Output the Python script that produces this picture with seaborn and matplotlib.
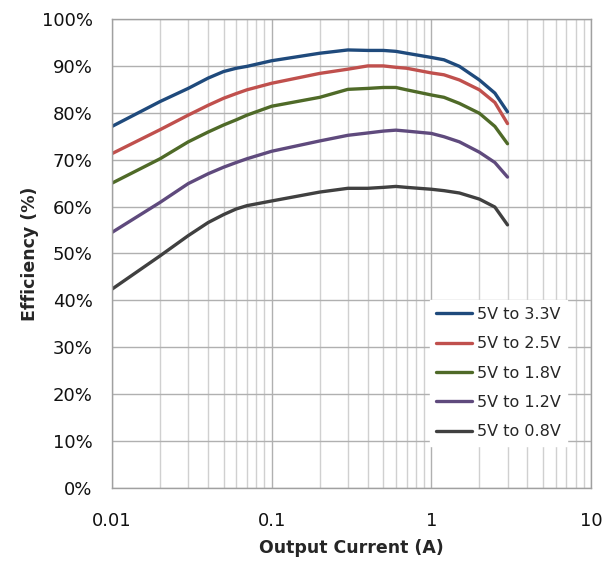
import numpy as np
import pandas as pd
import matplotlib
matplotlib.use("Agg")
import matplotlib.pyplot as plt
import seaborn as sns
from matplotlib.ticker import FixedLocator, FuncFormatter, LogLocator, NullFormatter

current = [0.01, 0.02, 0.03, 0.04, 0.05, 0.06, 0.07, 0.1, 0.2, 0.3, 0.4, 0.5, 0.6, 0.7,
           1.0, 1.2, 1.5, 2.0, 2.5, 3.0]
eff_33 = [77.1, 82.4, 85.2, 87.4, 88.8, 89.5, 89.9, 91.1, 92.7, 93.4, 93.3, 93.3, 93.1, 92.7,
          91.8, 91.3, 89.9, 87.0, 84.2, 80.2]
eff_25 = [71.3, 76.4, 79.5, 81.6, 83.1, 84.1, 84.9, 86.3, 88.4, 89.3, 90.0, 90.0, 89.7, 89.5,
          88.5, 88.1, 87.0, 84.9, 82.2, 77.7]
eff_18 = [65.0, 70.2, 73.8, 75.9, 77.4, 78.5, 79.5, 81.4, 83.3, 85.0, 85.2, 85.4, 85.4, 84.9,
          83.8, 83.3, 82.0, 79.9, 77.1, 73.4]
eff_12 = [54.5, 60.9, 64.9, 67.0, 68.4, 69.4, 70.2, 71.8, 74.0, 75.2, 75.7, 76.1, 76.3, 76.1,
          75.6, 74.9, 73.8, 71.6, 69.4, 66.3]
eff_08 = [42.4, 49.5, 53.8, 56.6, 58.3, 59.5, 60.2, 61.2, 63.1, 63.9, 63.9, 64.1, 64.3, 64.1,
          63.7, 63.4, 62.9, 61.6, 59.9, 56.1]
series = ["5V to 3.3V", "5V to 2.5V", "5V to 1.8V", "5V to 1.2V", "5V to 0.8V"]
colors = ["#1f4a7c", "#c0504d", "#4f6a28", "#5f4a7d", "#404040"]
y_ticks = [0, 10, 20, 30, 40, 50, 60, 70, 80, 90, 100]
x_ticks = [0.01, 0.1, 1, 10]
x_tick_labels = ["0.01", "0.1", "1", "10"]

rows = []
for name, vals in zip(series, [eff_33, eff_25, eff_18, eff_12, eff_08]):
    for c, v in zip(current, vals):
        rows.append({"Current": c, "Efficiency": v, "Series": name})
df = pd.DataFrame(rows)

sns.set_style("white")
plt.rcParams["font.family"] = ["DejaVu Sans"]

fig = plt.figure(figsize=(6.09, 5.61), dpi=100)
ax = fig.add_axes([112/609, 1-488/561, (591-112)/609, (488-19)/561])

sns.lineplot(data=df, x="Current", y="Efficiency", hue="Series", palette=colors,
             hue_order=series, linewidth=2.4, ax=ax, sort=True, estimator=None)
for ln in ax.get_lines():
    ln.set_solid_joinstyle("round")
    ln.set_solid_capstyle("round")

ax.set_xscale("log")
ax.set_xlim(0.01, 10)
ax.set_ylim(0, 100)
ax.xaxis.set_major_locator(FixedLocator(x_ticks))
ax.xaxis.set_major_formatter(FuncFormatter(lambda v, p: x_tick_labels[x_ticks.index(v)] if v in x_ticks else ""))
ax.xaxis.set_minor_locator(LogLocator(base=10, subs=np.arange(2, 10), numticks=20))
ax.xaxis.set_minor_formatter(NullFormatter())
ax.yaxis.set_major_locator(FixedLocator(y_ticks))
ax.yaxis.set_major_formatter(FuncFormatter(lambda v, p: f"{int(v)}%"))

ax.grid(True, which="major", axis="both", color="#b0b0b0", linewidth=1.0)
ax.grid(True, which="minor", axis="x", color="#d0d0d0", linewidth=1.0)
ax.set_axisbelow(True)
for s in ax.spines.values():
    s.set_color("#a0a0a0")
    s.set_linewidth(1.0)
ax.tick_params(axis="both", which="both", length=0, labelsize=13, colors="#111111")
ax.tick_params(axis="y", pad=14)
ax.tick_params(axis="x", pad=17)

ax.set_xlabel("Output Current (A)", fontsize=12.5, fontweight="bold", labelpad=7)
ax.set_ylabel("Efficiency (%)", fontsize=12.5, fontweight="bold", labelpad=2)

leg = ax.legend(loc="lower right", bbox_to_anchor=(0.967, 0.073), frameon=True, fontsize=11.5,
                handlelength=2.25, handletextpad=0.3, labelspacing=0.9, borderpad=0.4,
                fancybox=False)
leg.get_frame().set_edgecolor("white")
leg.get_frame().set_facecolor("white")
leg.get_frame().set_alpha(1.0)
for line in leg.get_lines():
    line.set_linewidth(2.4)

fig.savefig("out.png", dpi=100)
